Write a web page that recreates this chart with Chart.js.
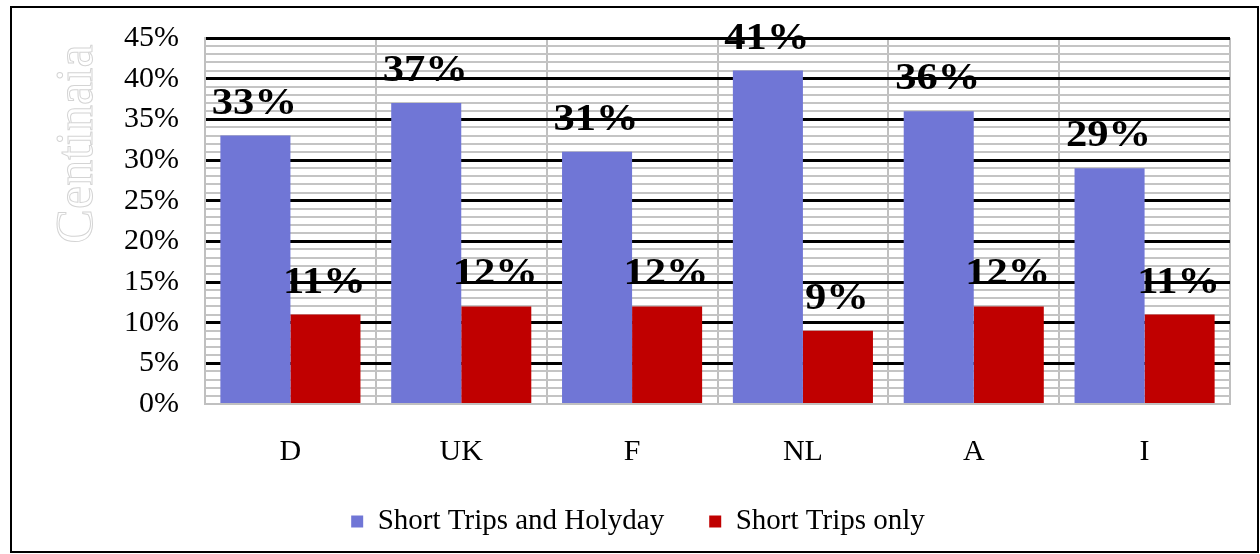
<!DOCTYPE html>
<html>
<head>
<meta charset="utf-8">
<script src="https://cdn.jsdelivr.net/npm/chart.js@4/dist/chart.umd.min.js"></script>
<style>
  html, body { margin: 0; padding: 0; background: #fff; }
  #wrap { width: 1260px; height: 554px; }
</style>
</head>
<body>
<div id="wrap"><canvas id="grafico"></canvas></div>
<script>
const paesi = ["D", "UK", "F", "NL", "A", "I"];
const viaggiEVacanze = [33, 37, 31, 41, 36, 29];
const soloViaggiBrevi = [11, 12, 12, 9, 12, 11];
const etichettaAsse = "Centinaia";
const serif = "'Liberation Serif', 'Times New Roman', serif";

// cornice esterna e titolo asse in contorno
const cornice = {
    id: "cornice",
    beforeDraw: (chart) => {
        const ctx = chart.ctx;
        ctx.save();
        ctx.fillStyle = "#fff";
        ctx.fillRect(0, 0, chart.width, chart.height);
        ctx.strokeStyle = "#000";
        ctx.lineWidth = 2;
        ctx.strokeRect(11, 7, chart.width - 13, chart.height - 9);
        ctx.restore();
    },
    afterDraw: (chart) => {
        const ctx = chart.ctx;
        ctx.save();
        ctx.translate(92, 144);
        ctx.rotate(-Math.PI / 2);
        ctx.font = "52px " + serif;
        ctx.textAlign = "center";
        ctx.textBaseline = "alphabetic";
        ctx.strokeStyle = "#d4d4d4";
        ctx.lineWidth = 1;
        ctx.strokeText(etichettaAsse, 0, 0);
        ctx.restore();
    },
};

// etichette dei valori sopra le barre
const etichette = {
    id: "etichette",
    afterDatasetsDraw: (chart) => {
        const ctx = chart.ctx;
        ctx.save();
        ctx.fillStyle = "#000";
        ctx.font = "bold 38px " + serif;
        ctx.textAlign = "center";
        ctx.textBaseline = "alphabetic";
        chart.data.datasets.forEach((ds, i) => {
            chart.getDatasetMeta(i).data.forEach((barra, j) => {
                ctx.save();
                ctx.translate(barra.x - 1, barra.y - 22);
                ctx.scale(1.12, 1);
                ctx.fillText(ds.data[j] + "%", 0, 0);
                ctx.restore();
            });
        });
        ctx.restore();
    },
};

new Chart(document.getElementById("grafico"), {
    type: "bar",
    data: {
        labels: paesi,
        datasets: [
            {
                label: "Short Trips and Holyday",
                data: viaggiEVacanze,
                backgroundColor: "#7076d6",
                borderWidth: 0,
            },
            {
                label: "Short Trips only",
                data: soloViaggiBrevi,
                backgroundColor: "#c00000",
                borderWidth: 0,
            },
        ],
    },
    options: {
        responsive: true,
        maintainAspectRatio: false,
        animation: false,
        datasets: {
            bar: { categoryPercentage: 0.82, barPercentage: 1.0 },
        },
        layout: { padding: { top: 38, right: 30, left: 46, bottom: 8 } },
        scales: {
            x: {
                grid: { color: "#c0c0c0", lineWidth: 2, offset: true, drawTicks: false },
                border: { color: "#c0c0c0", width: 2 },
                ticks: { color: "#000", font: { family: serif, size: 30 }, padding: 30 },
                afterFit: (s) => { s.height = 58; },
            },
            y: {
                min: 0,
                max: 45,
                grid: {
                    drawTicks: false,
                    color: (c) => (c.tick.value % 5 === 0 && c.tick.value > 0 ? "#000" : "#c4c4c4"),
                    lineWidth: (c) => (c.tick.value % 5 === 0 && c.tick.value > 0 ? 3 : 2),
                },
                border: { color: "#c0c0c0", width: 2 },
                ticks: {
                    stepSize: 1,
                    autoSkip: false,
                    color: "#000",
                    font: { family: serif, size: 30 },
                    padding: 26,
                    callback: (v) => (v % 5 === 0 ? v + "%" : ""),
                },
                afterFit: (s) => {
                    s.width = 159;
                    s.paddingTop = 0;
                    s.paddingBottom = 0;
                },
            },
        },
        plugins: {
            tooltip: { enabled: false },
            legend: {
                position: "bottom",
                labels: {
                    color: "#000",
                    font: { family: serif, size: 29 },
                    boxWidth: 12,
                    boxHeight: 12,
                    padding: 45,
                },
            },
        },
    },
    plugins: [cornice, etichette],
});
</script>
</body>
</html>
